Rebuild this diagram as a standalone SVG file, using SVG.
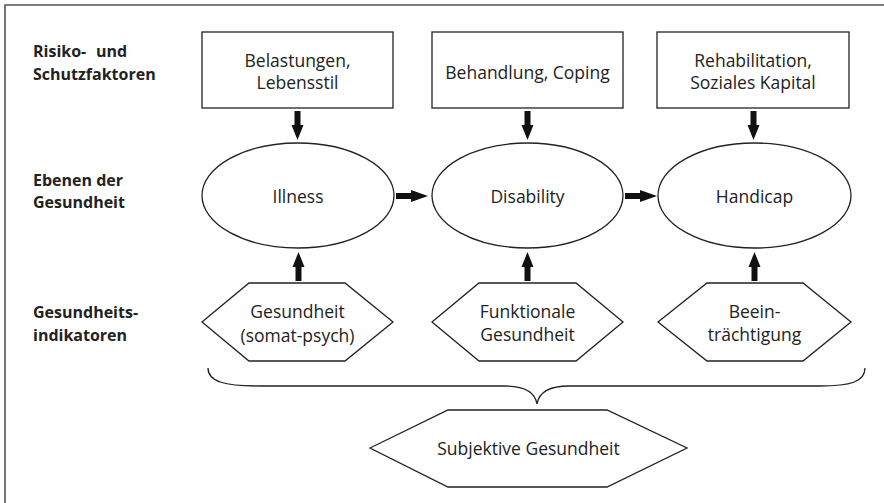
<svg xmlns="http://www.w3.org/2000/svg" width="884" height="503" viewBox="0 0 884 503">
<style>
.shape{fill:#fff;stroke:#222;stroke-width:1.3}
.t{font-family:"Open Sans","Liberation Sans",sans-serif;font-size:17.5px;fill:#222;text-anchor:middle}
.lbl{font-family:"Open Sans","Liberation Sans",sans-serif;font-size:16px;font-weight:bold;fill:#222}
.arr{fill:#111;stroke:none}
</style>
<rect width="884" height="503" fill="#fff"/>
<path d="M5,503 V5 H884" fill="none" stroke="#555" stroke-width="1.6"/>

<g id="labels">
<text class="lbl" x="33" y="57">Risiko-<tspan x="96">und</tspan></text>
<text class="lbl" x="33" y="80">Schutzfaktoren</text>
<text class="lbl" x="33" y="186">Ebenen der</text>
<text class="lbl" x="33" y="208">Gesundheit</text>
<text class="lbl" x="33" y="318">Gesundheits-</text>
<text class="lbl" x="33" y="341">indikatoren</text>
</g>

<g id="box1"><rect class="shape" x="202" y="32" width="191" height="76"/><text class="t" x="297.5" y="67">Belastungen,</text><text class="t" x="297.5" y="89">Lebensstil</text></g>
<g id="box2"><rect class="shape" x="432" y="32" width="191" height="76"/><text class="t" x="527.5" y="79">Behandlung, Coping</text></g>
<g id="box3"><rect class="shape" x="657" y="32" width="192" height="76"/><text class="t" x="753" y="67">Rehabilitation,</text><text class="t" x="753" y="89">Soziales Kapital</text></g>

<g id="illness"><ellipse class="shape" cx="298" cy="195.5" rx="96" ry="52.5"/><text class="t" x="298" y="203">Illness</text></g>
<g id="disability"><ellipse class="shape" cx="527.5" cy="195.5" rx="95.5" ry="52.5"/><text class="t" x="527.5" y="203">Disability</text></g>
<g id="handicap"><ellipse class="shape" cx="754.5" cy="195.5" rx="96.5" ry="52.5"/><text class="t" x="754.5" y="203">Handicap</text></g>

<g id="hex1"><polygon class="shape" points="202,322 249,283 345,283 393,322 345,361 249,361"/><text class="t" x="297.5" y="318">Gesundheit</text><text class="t" x="297.5" y="342">(somat-psych)</text></g>
<g id="hex2"><polygon class="shape" points="432,322 479,283 576,283 623,322 576,361 479,361"/><text class="t" x="527.5" y="318">Funktionale</text><text class="t" x="527.5" y="341">Gesundheit</text></g>
<g id="hex3"><polygon class="shape" points="658,322 707,283 803,283 851,322 803,361 707,361"/><text class="t" x="754.5" y="318">Beein-</text><text class="t" x="754.5" y="341">trächtigung</text></g>

<g id="subjektiv"><polygon class="shape" points="370,448 448,410 607,410 687,448 607,487 448,487"/><text class="t" x="528.5" y="455">Subjektive Gesundheit</text></g>

<g id="connectors">
<polygon class="arr" points="294.5,111 300.5,111 300.5,125 303.5,125 297.5,140 291.5,125 294.5,125"/>
<polygon class="arr" points="524.5,111 530.5,111 530.5,125 533.5,125 527.5,140 521.5,125 524.5,125"/>
<polygon class="arr" points="750.5,111 756.5,111 756.5,125 759.5,125 753.5,140 747.5,125 750.5,125"/>
<polygon class="arr" points="396,193 411,193 411,190 428,196 411,202 411,199 396,199"/>
<polygon class="arr" points="625,193 640,193 640,190 657,196 640,202 640,199 625,199"/>
<polygon class="arr" points="295.5,281 301.5,281 301.5,267 304.5,267 298.5,252 292.5,267 295.5,267"/>
<polygon class="arr" points="524.5,281 530.5,281 530.5,267 533.5,267 527.5,252 521.5,267 524.5,267"/>
<polygon class="arr" points="751.5,281 757.5,281 757.5,267 760.5,267 754.5,252 748.5,267 751.5,267"/>
<path d="M208,368 C208,382 225,386 260,386 L505,386 C525,386 535,392 537,404 C539,392 549,386 569,386 L820,386 C850,386 865,382 865,368" fill="none" stroke="#222" stroke-width="1.3"/>
</g>
</svg>
